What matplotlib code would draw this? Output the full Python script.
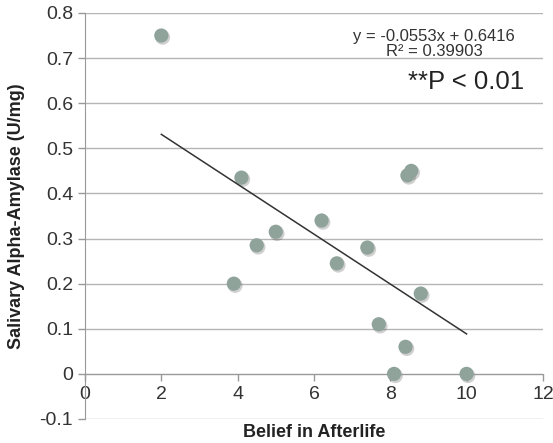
import matplotlib.pyplot as plt
import numpy as np

plt.rcParams['font.family'] = ['Liberation Sans', 'DejaVu Sans']

# belief score vs salivary alpha-amylase
belief = [2.0, 4.1, 3.9, 4.5, 5.0, 6.2, 6.6, 7.4, 7.7, 8.4, 8.1, 10.0, 8.8, 8.45, 8.55]
amylase = [0.75, 0.435, 0.2, 0.285, 0.315, 0.34, 0.245, 0.28, 0.11, 0.06, 0.0, 0.0, 0.178, 0.44, 0.45]
slope = -0.0553
intercept = 0.6416
r2 = 0.39903

fig = plt.figure(figsize=(5.53, 4.43), dpi=100)
ax = fig.add_axes([0.1537, 0.0542, 0.828, 0.9165])

for y in np.arange(-0.1, 0.81, 0.1):
    ax.axhline(y, color='#b5b5b5', lw=1.0, zorder=0)

# soft shadow then marker
bx = np.array(belief)
by = np.array(amylase)
ax.scatter(bx + 0.035, by - 0.004, s=115, color='#444444', alpha=0.25, edgecolors='none', zorder=2)
ax.scatter(bx, by, s=105, color='#8fa39b', edgecolors='none', zorder=3)

xl = np.array([2, 10])
ax.plot(xl, slope * xl + intercept, color='#333333', lw=1.1, zorder=4)

ax.set_xlim(0, 12)
ax.set_ylim(-0.1, 0.8)
ax.set_xticks(range(0, 13, 2))
ax.set_yticks(np.round(np.arange(-0.1, 0.81, 0.1), 1))
ax.set_yticklabels(['-0.1', '0', '0.1', '0.2', '0.3', '0.4', '0.5', '0.6', '0.7', '0.8'])

ax.spines['top'].set_visible(False)
ax.spines['right'].set_visible(False)
ax.spines['bottom'].set_position(('data', 0))
ax.spines['bottom'].set_color('#999999')
ax.spines['left'].set_color('#999999')
ax.tick_params(axis='both', colors='#999999', labelcolor='#333333', labelsize=14, length=5, width=1)
ax.tick_params(axis='x', pad=4)

ax.set_xlabel('Belief in Afterlife', fontsize=13, fontweight='bold', color='#222222')
ax.xaxis.set_label_coords(0.5, -0.012)
ax.set_ylabel('Salivary Alpha-Amylase (U/mg)', fontsize=13, fontweight='bold', color='#222222')
ax.yaxis.set_label_coords(-0.13, 0.5)

ax.text(0.762, 0.96, 'y = -0.0553x + 0.6416\nR² = %.5f' % r2, transform=ax.transAxes,
        fontsize=12, color='#333333', ha='center', va='top', linespacing=0.95)
ax.text(0.96, 0.83, '**P < 0.01', transform=ax.transAxes, fontsize=18.5, color='#222222',
        ha='right', va='center')

fig.savefig('out.png', dpi=100)
